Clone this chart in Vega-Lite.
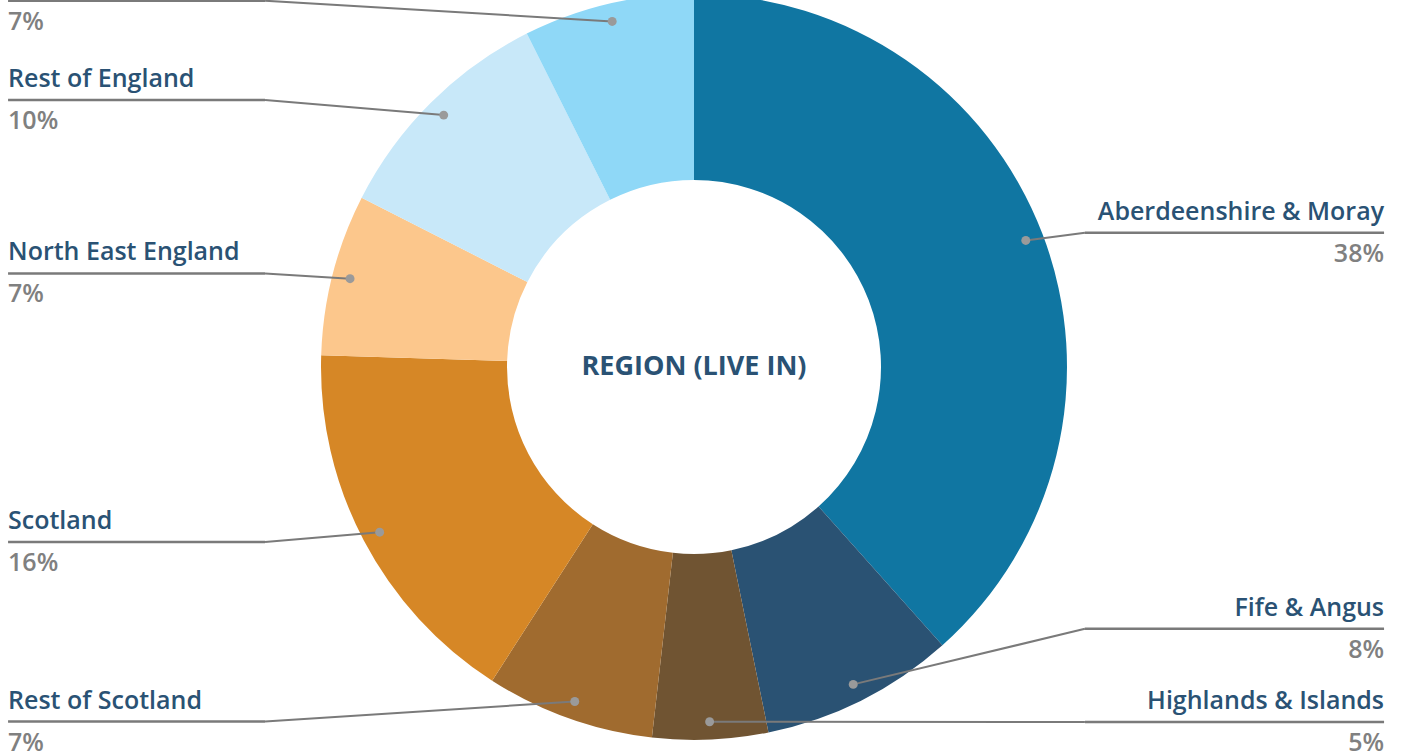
{
  "$schema": "https://vega.github.io/schema/vega-lite/v6.json",
  "width": 1403,
  "height": 756,
  "autosize": {"type": "none"},
  "padding": 0,
  "background": "#ffffff",
  "config": {"view": {"stroke": null}},
  "layer": [
    {
      "data": {
        "values": [
          {"idx": 1, "region": "Aberdeenshire & Moray", "value": 38.4},
          {"idx": 2, "region": "Fife & Angus", "value": 8.4},
          {"idx": 3, "region": "Highlands & Islands", "value": 5.0},
          {"idx": 4, "region": "Rest of Scotland", "value": 7.3},
          {"idx": 5, "region": "Scotland", "value": 16.4},
          {"idx": 6, "region": "North East England", "value": 7.0},
          {"idx": 7, "region": "Rest of England", "value": 10.1},
          {"idx": 8, "region": "Other", "value": 7.4}
        ]
      },
      "transform": [
        {"window": [{"op": "sum", "field": "value", "as": "cum"}], "sort": [{"field": "idx"}], "frame": [null, 0]},
        {"joinaggregate": [{"op": "sum", "field": "value", "as": "total"}]},
        {"calculate": "(datum.cum - datum.value) / datum.total", "as": "t0"},
        {"calculate": "datum.cum / datum.total", "as": "t1"},
        {"calculate": "PI * (2 * datum.cum - datum.value) / datum.total", "as": "a"},
        {"calculate": "sin(datum.a) >= 0 ? 'R' : 'L'", "as": "side"},
        {"calculate": "0.952 * sin(datum.a)", "as": "dx"},
        {"calculate": "0.952 * cos(datum.a)", "as": "dy"},
        {"calculate": "max(1.06 * datum.dy, -0.952)", "as": "ly"},
        {"window": [{"op": "lag", "field": "ly", "as": "prevLy"}], "groupby": ["side"], "sort": [{"field": "ly", "order": "ascending"}]},
        {"calculate": "datum.prevLy == null ? datum.ly : max(datum.ly, datum.prevLy + 0.25)", "as": "labelY"},
        {"calculate": "datum.side == 'L' ? -1.15 : max(datum.dx, 1.048)", "as": "bx"},
        {"calculate": "datum.side == 'L' ? -1.839 : 1.85", "as": "ex"},
        {"calculate": "format(datum.value / datum.total, '.0%')", "as": "pct"}
      ],
      "layer": [
        {
          "mark": {"type": "arc", "outerRadius": 373, "innerRadius": 187},
          "encoding": {
            "theta": {"field": "t0", "type": "quantitative", "scale": {"domain": [0, 1], "range": [0, 6.283185307179586]}},
            "theta2": {"field": "t1"},
            "x": {"datum": 0, "type": "quantitative", "scale": {"domain": [-1.8606, 1.9008], "nice": false, "zero": false}, "axis": null},
            "y": {"datum": 0, "type": "quantitative", "scale": {"domain": [-1.0429, 0.9839], "nice": false, "zero": false}, "axis": null},
            "color": {
              "field": "region",
              "type": "nominal",
              "legend": null,
              "scale": {
                "domain": ["Aberdeenshire & Moray", "Fife & Angus", "Highlands & Islands", "Rest of Scotland", "Scotland", "North East England", "Rest of England", "Other"],
                "range": ["#1076a2", "#2a5273", "#705432", "#a06b2f", "#d68726", "#fcc78c", "#c8e8f9", "#8fd8f7"]
              }
            }
          }
        },
        {
          "mark": {"type": "rule", "color": "#7a7a7a", "strokeWidth": 2},
          "encoding": {
            "x": {"field": "dx", "type": "quantitative", "scale": {"domain": [-1.8606, 1.9008], "nice": false, "zero": false}, "axis": null},
            "y": {"field": "dy", "type": "quantitative", "scale": {"domain": [-1.0429, 0.9839], "nice": false, "zero": false}, "axis": null},
            "x2": {"field": "bx"},
            "y2": {"field": "labelY"}
          }
        },
        {
          "mark": {"type": "rule", "color": "#7a7a7a", "strokeWidth": 2.5},
          "encoding": {
            "x": {"field": "bx", "type": "quantitative", "scale": {"domain": [-1.8606, 1.9008], "nice": false, "zero": false}, "axis": null},
            "y": {"field": "labelY", "type": "quantitative", "scale": {"domain": [-1.0429, 0.9839], "nice": false, "zero": false}, "axis": null},
            "x2": {"field": "ex"}
          }
        },
        {
          "mark": {"type": "point", "filled": true, "opacity": 1, "color": "#9a9a9a", "size": 80},
          "encoding": {
            "x": {"field": "dx", "type": "quantitative", "scale": {"domain": [-1.8606, 1.9008], "nice": false, "zero": false}, "axis": null},
            "y": {"field": "dy", "type": "quantitative", "scale": {"domain": [-1.0429, 0.9839], "nice": false, "zero": false}, "axis": null}
          }
        },
        {
          "transform": [{"filter": "datum.side == 'L'"}],
          "mark": {"type": "text", "align": "left", "baseline": "alphabetic", "dy": -13, "font": "Open Sans", "fontSize": 25, "fontWeight": 600, "color": "#2a5274"},
          "encoding": {
            "x": {"field": "ex", "type": "quantitative", "scale": {"domain": [-1.8606, 1.9008], "nice": false, "zero": false}, "axis": null},
            "y": {"field": "labelY", "type": "quantitative", "scale": {"domain": [-1.0429, 0.9839], "nice": false, "zero": false}, "axis": null},
            "text": {"field": "region"}
          }
        },
        {
          "transform": [{"filter": "datum.side == 'R'"}],
          "mark": {"type": "text", "align": "right", "baseline": "alphabetic", "dy": -13, "font": "Open Sans", "fontSize": 25, "fontWeight": 600, "color": "#2a5274"},
          "encoding": {
            "x": {"field": "ex", "type": "quantitative", "scale": {"domain": [-1.8606, 1.9008], "nice": false, "zero": false}, "axis": null},
            "y": {"field": "labelY", "type": "quantitative", "scale": {"domain": [-1.0429, 0.9839], "nice": false, "zero": false}, "axis": null},
            "text": {"field": "region"}
          }
        },
        {
          "transform": [{"filter": "datum.side == 'L'"}],
          "mark": {"type": "text", "align": "left", "baseline": "alphabetic", "dy": 29, "font": "Open Sans", "fontSize": 25, "fontWeight": 600, "letterSpacing": 2, "color": "#808080"},
          "encoding": {
            "x": {"field": "ex", "type": "quantitative", "scale": {"domain": [-1.8606, 1.9008], "nice": false, "zero": false}, "axis": null},
            "y": {"field": "labelY", "type": "quantitative", "scale": {"domain": [-1.0429, 0.9839], "nice": false, "zero": false}, "axis": null},
            "text": {"field": "pct"}
          }
        },
        {
          "transform": [{"filter": "datum.side == 'R'"}],
          "mark": {"type": "text", "align": "right", "baseline": "alphabetic", "dy": 29, "font": "Open Sans", "fontSize": 25, "fontWeight": 600, "letterSpacing": 2, "color": "#808080"},
          "encoding": {
            "x": {"field": "ex", "type": "quantitative", "scale": {"domain": [-1.8606, 1.9008], "nice": false, "zero": false}, "axis": null},
            "y": {"field": "labelY", "type": "quantitative", "scale": {"domain": [-1.0429, 0.9839], "nice": false, "zero": false}, "axis": null},
            "text": {"field": "pct"}
          }
        }
      ]
    },
    {
      "data": {"values": [{"title": "REGION (LIVE IN)"}]},
      "mark": {"type": "text", "align": "center", "baseline": "middle", "font": "Open Sans", "fontSize": 27, "fontWeight": "bold", "color": "#2a5274"},
      "encoding": {
        "x": {"datum": 0, "type": "quantitative", "scale": {"domain": [-1.8606, 1.9008], "nice": false, "zero": false}, "axis": null},
        "y": {"datum": 0, "type": "quantitative", "scale": {"domain": [-1.0429, 0.9839], "nice": false, "zero": false}, "axis": null},
        "text": {"field": "title"}
      }
    }
  ]
}
